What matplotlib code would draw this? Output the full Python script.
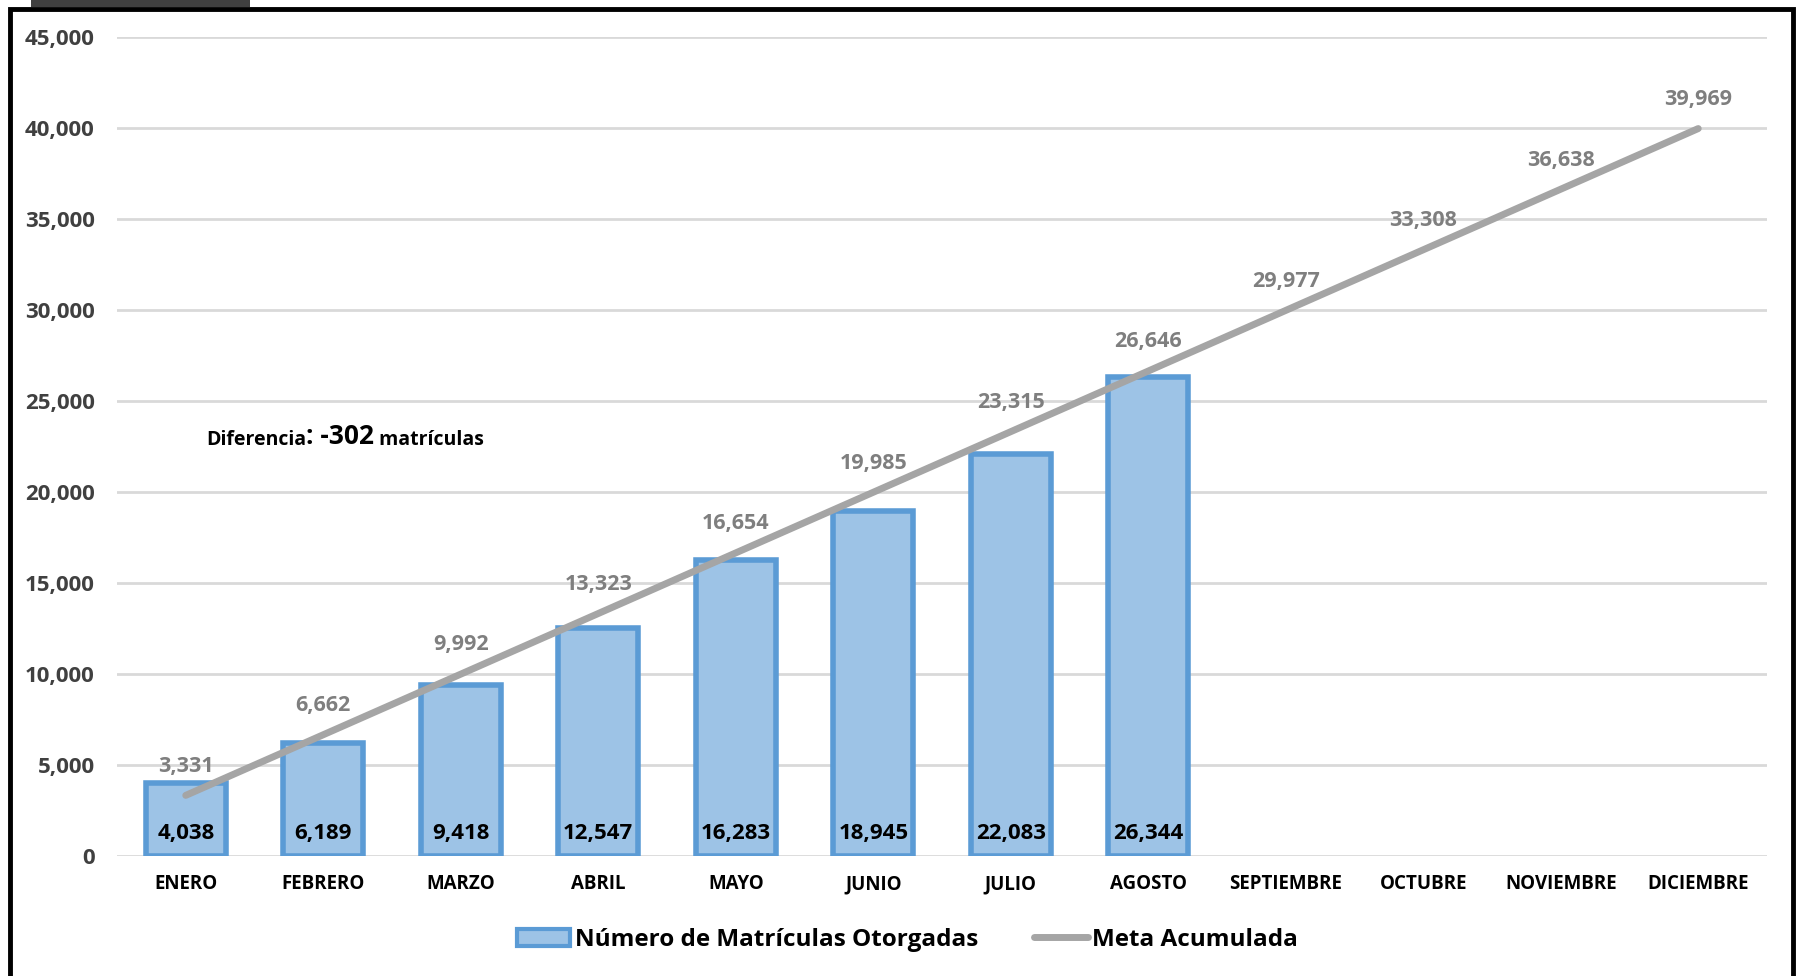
import matplotlib.pyplot as plt
import numpy as np
from matplotlib.patches import Patch, Rectangle
from matplotlib.lines import Line2D

plt.rcParams['font.family'] = ['Open Sans', 'DejaVu Sans']

# data
meses = ['ENERO', 'FEBRERO', 'MARZO', 'ABRIL', 'MAYO', 'JUNIO', 'JULIO',
         'AGOSTO', 'SEPTIEMBRE', 'OCTUBRE', 'NOVIEMBRE', 'DICIEMBRE']
matriculas = [4038, 6189, 9418, 12547, 16283, 18945, 22083, 26344]
meta = [3331, 6662, 9992, 13323, 16654, 19985, 23315, 26646,
        29977, 33308, 36638, 39969]
diferencia = -302

bar_face = '#9DC3E6'
bar_edge = '#5B9BD5'
line_col = '#A5A5A5'

fig = plt.figure(figsize=(17.97, 9.76), dpi=100)
ax = fig.add_axes([117/1797, 1-856/976, 1650/1797, 819/976])

x = np.arange(len(meses))
xb = x[:len(matriculas)]

ax.bar(xb, matriculas, width=0.58, color=bar_face, edgecolor=bar_edge,
       linewidth=4, zorder=2)
ax.plot(x, meta, color=line_col, linewidth=5, solid_capstyle='round', zorder=3)

# labels
for i, v in zip(xb, matriculas):
    ax.annotate(f'{v:,}', xy=(i, 0), xytext=(0, 16.5), textcoords='offset points',
                ha='center', va='center', fontsize=16, fontweight='bold',
                color='black', zorder=4)
for i, v in zip(x, meta):
    ax.annotate(f'{v:,}', xy=(i, v), xytext=(0, 21), textcoords='offset points',
                ha='center', va='center', fontsize=15.5, fontweight='bold',
                color='#7F7F7F', zorder=4)

t1 = ax.text(0.15, 22300, 'Diferencia', fontsize=14, fontweight='bold',
             va='bottom', ha='left')
t2 = ax.annotate(f': {diferencia}', xy=(1, 0), xycoords=t1, fontsize=19,
                 fontweight='bold', va='bottom', ha='left')
t3 = ax.annotate(' matrículas', xy=(1, 0), xycoords=t2, fontsize=14,
                 fontweight='bold', va='bottom', ha='left')

ax.set_xlim(-0.5, 11.5)
ax.set_ylim(0, 45000)
ax.set_yticks(np.arange(0, 45001, 5000))
ax.set_yticklabels([f'{v:,}' for v in range(0, 45001, 5000)])
ax.set_xticks(x)
ax.set_xticklabels(meses)
ax.tick_params(axis='y', length=0, pad=16, labelsize=16, labelcolor='#404040')
ax.tick_params(axis='x', length=0, pad=13, labelsize=13.5, labelcolor='black')
for lab in ax.get_xticklabels() + ax.get_yticklabels():
    lab.set_fontweight('bold')
ax.grid(axis='y', color='#D9D9D9', linewidth=2, zorder=0)
ax.set_axisbelow(True)
for s in ax.spines.values():
    s.set_visible(False)

handles = [Patch(facecolor=bar_face, edgecolor=bar_edge, linewidth=3),
           Line2D([0], [0], color=line_col, linewidth=5, solid_capstyle='round')]
fig.legend(handles, ['Número de Matrículas Otorgadas', 'Meta Acumulada'],
           loc='center', bbox_to_anchor=(0.505, 0.037), ncol=2, frameon=False,
           prop={'size': 17.5, 'weight': 'bold'}, handlelength=2.2,
           handletextpad=0.2, columnspacing=2.3)

# frame and top tab
fig.add_artist(Rectangle((10/1797, -0.05), 1783/1797, 1.05 - 9/976,
                         transform=fig.transFigure, fill=False,
                         edgecolor='black', linewidth=3.5))
fig.add_artist(Rectangle((31/1797, 1-7/976), 219/1797, 7/976,
                         transform=fig.transFigure, facecolor='#404040',
                         edgecolor='none'))

fig.savefig('out.png', dpi=100)
